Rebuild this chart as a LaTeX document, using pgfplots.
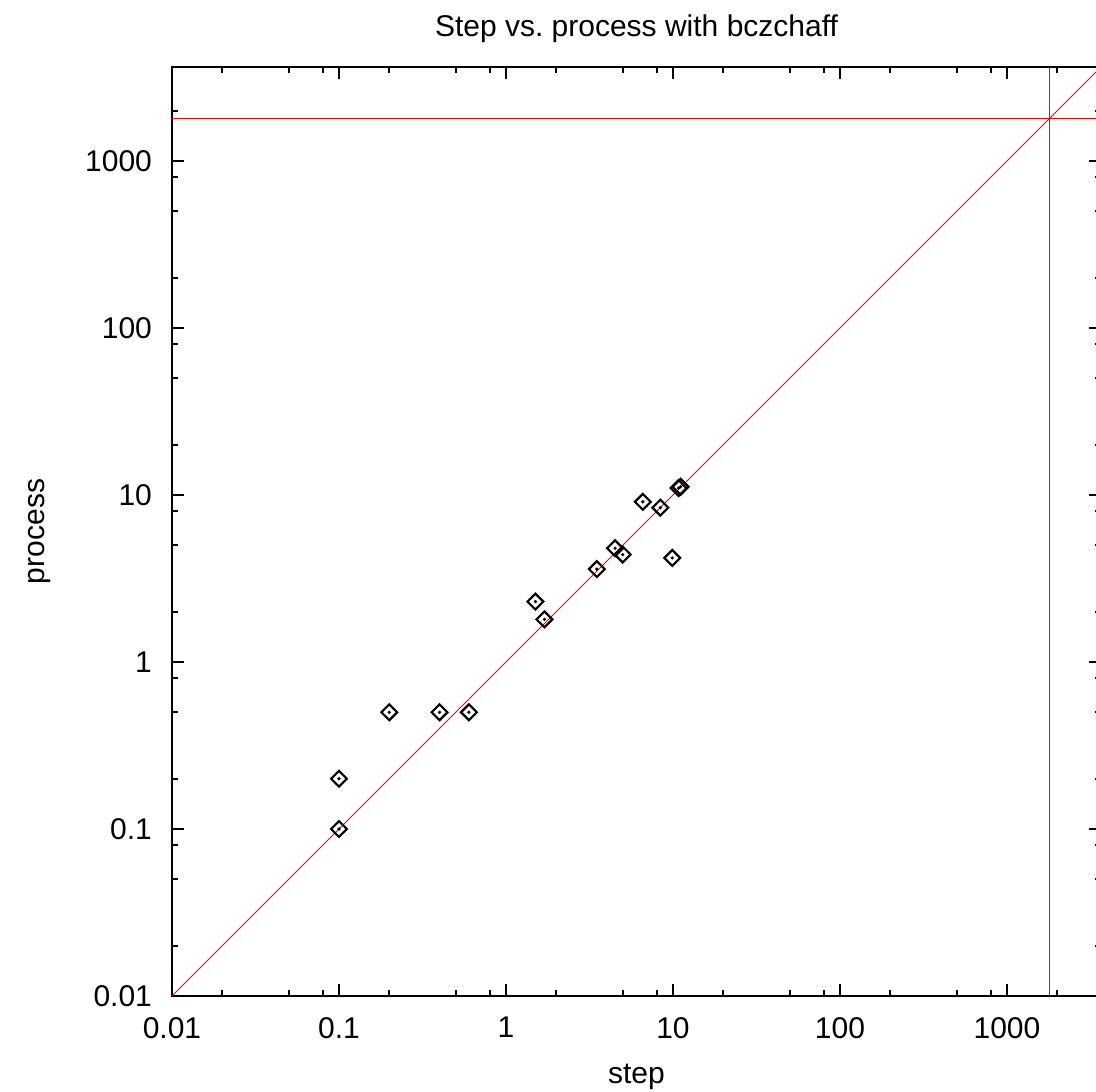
\documentclass[border=0pt]{standalone}
\usepackage{pgfplots}
\pgfplotsset{compat=1.18}
\usepackage{pgfplotstable}
\usepackage{fontspec}
\setmainfont{Liberation Sans}

\pgfplotstableread{
x y
0.1 0.2
0.1 0.1
0.2 0.5
0.4 0.5
0.6 0.5
1.5 2.3
1.7 1.8
3.5 3.6
4.5 4.8
5.0 4.4
6.6 9.1
8.4 8.4
9.9 4.2
10.8 11.0
11.1 11.2
}\runs

\begin{document}
\begin{tikzpicture}
\begin{axis}[
    xmode=log, ymode=log,
    width=464.5pt, height=464.5pt,
    scale only axis,
    xmin=0.01, xmax=3656, ymin=0.01, ymax=3656,
    font=\fontsize{15}{18}\selectfont,
    /pgf/number format/assume math mode=true,
    axis line style={line width=1.2pt},
    every tick/.style={black, line width=1pt},
    tick align=inside,
    major tick length=6pt, minor tick length=3pt,
    xtick={0.01,0.1,1,10,100,1000},
    xticklabels={0.01,0.1,1,10,100,1000},
    ytick={0.01,0.1,1,10,100,1000},
    yticklabels={0.01,0.1,1,10,100,1000},
    minor xtick={0.02,0.05,0.08,0.2,0.5,0.8,2,5,8,20,50,80,200,500,800,2000},
    minor ytick={0.02,0.05,0.08,0.2,0.5,0.8,2,5,8,20,50,80,200,500,800,2000},
    xticklabel style={yshift=-7pt},
    yticklabel style={xshift=-6.5pt},
    title={Step vs.\ process with bczchaff},
    title style={at={(axis description cs:0.5,1.028)}, anchor=center},
    xlabel={step},
    xlabel style={at={(axis description cs:0.5,-0.087)}, anchor=center},
    ylabel={process},
    ylabel style={at={(axis description cs:-0.1425,0.5)}, anchor=center, rotate=0},
    clip=true,
]
\addplot[red, line width=0.5pt] coordinates {(0.01,0.01) (3656,3656)};
\addplot[red, line width=0.8pt] coordinates {(1800,0.01) (1800,3656)};
\addplot[red, line width=0.6pt] coordinates {(0.01,1800) (3656,1800)};
\addplot[only marks, mark=square, mark size=2.8pt, mark options={rotate=45, line width=1.1pt, draw=black, fill=none}] table {\runs};
\addplot[only marks, mark=*, mark size=0.6pt, mark options={black}] table {\runs};
\end{axis}
\pgfresetboundingbox
\path[use as bounding box] (-86pt,-47.5pt) rectangle (462pt,498pt);
\end{tikzpicture}
\end{document}
